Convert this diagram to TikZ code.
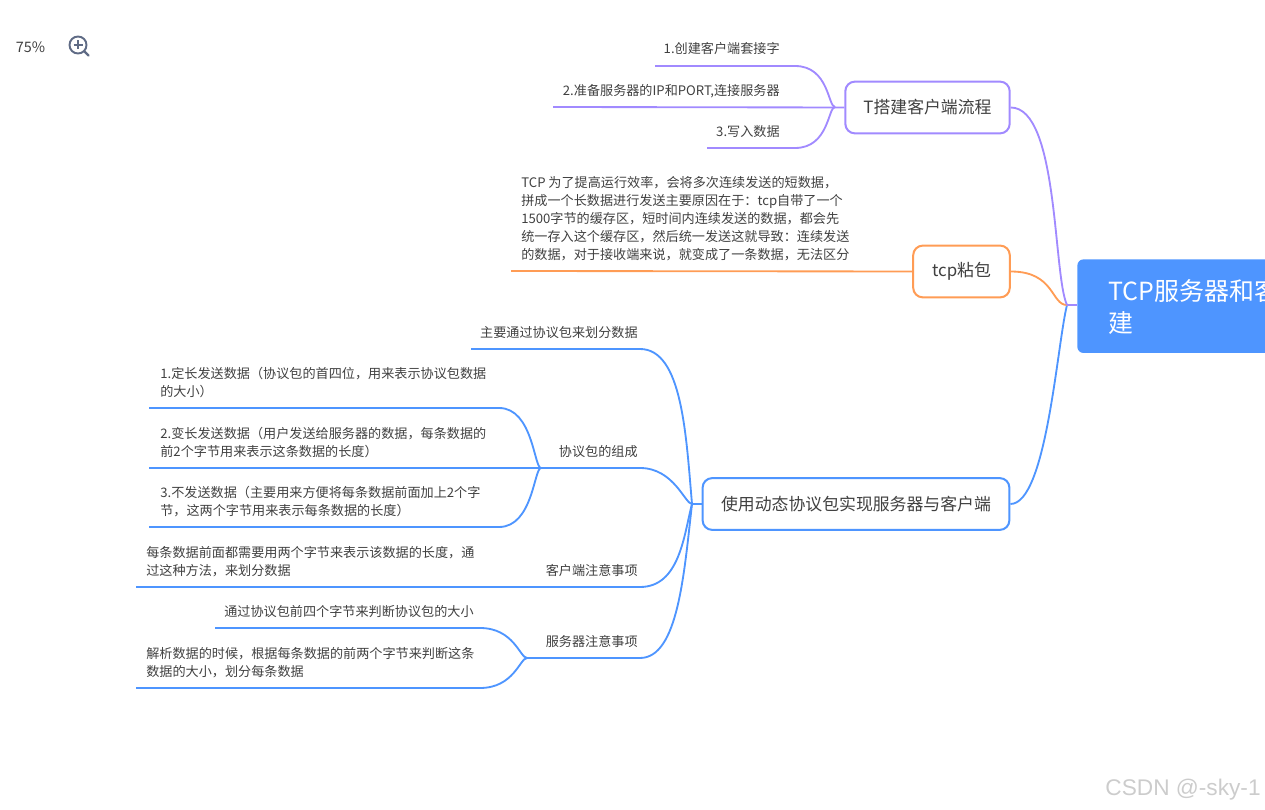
\documentclass[tikz,border=0pt]{standalone}
\usepackage{fontspec}
\setmainfont{Noto Sans CJK SC}
\newfontfamily\markfont{Liberation Sans}
\definecolor{rootblue}{HTML}{4E95FF}
\definecolor{topicviolet}{HTML}{A18AFF}
\definecolor{topicorange}{HTML}{FF9C55}
\definecolor{inkgray}{HTML}{404040}
\definecolor{iconslate}{HTML}{5F6B85}
\usetikzlibrary{calc}
\tikzset{
  rootbox/.style={fill=rootblue, rounded corners=3.5pt, anchor=north west, minimum width=300*0.567pt, minimum height=94*0.567pt, inner sep=0pt},
  topicbox/.style={draw, fill=white, line width=1.15pt, rounded corners=5.5pt, inner sep=0pt, text=inkgray, font=\fontsize{9.6}{12}\selectfont, minimum height=52*0.567pt},
  leaftext/.style={inner sep=0pt, yshift=-0.5pt, text=inkgray, align=left, font=\fontsize{7.47}{10.2}\selectfont},
  branch/.style={line width=1.05pt},
  sweep/.style={out=0, in=180, out distance=34*0.567pt, in distance=7*0.567pt}
}
\begin{document}
\begin{tikzpicture}[x=0.02cm, y=-0.02cm]
  \useasboundingbox (0,0) rectangle (1265,810);
  % Zoom widget
  \node[inner sep=0pt, text=inkgray, font=\fontsize{8.2}{10}\selectfont] (zoomlabel) at (30.5,47) {75\%};
  \draw[iconslate, line width=1.1pt] (78,45) circle (8.5);
  \draw[iconslate, line width=1.1pt] (73.5,45) -- (82.5,45) (78,40.5) -- (78,49.5);
  \draw[iconslate, line width=1.3pt, line cap=round] (84.2,51.2) -- (88.5,55.5);
  % Root and topics
  \node[rootbox] (root) at (1077,259) {};
  \node[anchor=west, inner sep=0pt, text=white, align=left, font=\fontsize{14.2}{18.5}\selectfont] (roottext) at (1108,307) {TCP服务器和客\\建};
  \node[topicbox, draw=topicviolet, minimum width=165*0.567pt] (boxT) at (927.5,107.5) {T搭建客户端流程};
  \node[topicbox, draw=topicorange, minimum width=97*0.567pt] (boxP) at (961.5,271.5) {tcp粘包};
  \node[topicbox, draw=rootblue, minimum width=308*0.567pt] (boxD) at (856,504) {使用动态协议包实现服务器与客户端};
  \coordinate (hubR) at (1067,305);
  \coordinate (hubT) at (835,107);
  \coordinate (hubD) at (692,504);
  \coordinate (hubA) at (541,468);
  \coordinate (hubC) at (527,658);

  % Client steps
  \node[leaftext, anchor=east] (t1) at (780,48) {1.创建客户端套接字};
  \node[leaftext, anchor=east] (t2) at (780,90) {2.准备服务器的IP和PORT,连接服务器};
  \node[leaftext, anchor=east] (t3) at (780,131) {3.写入数据};
  \coordinate (t1a) at (655,66); \coordinate (t1b) at (795,66);
  \coordinate (t2a) at (553,107);
  \coordinate (t3a) at (707,148); \coordinate (t3b) at (795,148);
  \draw[branch, topicviolet] (t1a) -- (t1b) to[sweep] (hubT);
  \draw[branch, topicviolet] (t3a) -- (t3b) to[sweep] (hubT);
  \draw[branch, topicviolet] (t2a) -- (boxT.west);

  % Sticky packets
  \node[leaftext, anchor=west] (p1) at (521,218) {TCP 为了提高运行效率，会将多次连续发送的短数据，\\拼成一个长数据进行发送主要原因在于：tcp自带了一个\\1500字节的缓存区，短时间内连续发送的数据，都会先\\统一存入这个缓存区，然后统一发送这就导致：连续发送\\的数据，对于接收端来说，就变成了一条数据，无法区分};
  \coordinate (p1a) at (511,271);
  \draw[branch, topicorange] (p1a) -- (boxP.west);

  % Protocol branches
  \node[leaftext, anchor=east] (d1) at (638,332) {主要通过协议包来划分数据};
  \node[leaftext, anchor=east] (d2) at (638,451) {协议包的组成};
  \node[leaftext, anchor=east] (d3) at (638,570) {客户端注意事项};
  \node[leaftext, anchor=east] (d4) at (638,641) {服务器注意事项};
  \node[leaftext, anchor=west] (a1) at (160,382) {1.定长发送数据（协议包的首四位，用来表示协议包数据\\的大小）};
  \node[leaftext, anchor=west] (a2) at (160,442) {2.变长发送数据（用户发送给服务器的数据，每条数据的\\前2个字节用来表示这条数据的长度）};
  \node[leaftext, anchor=west] (a3) at (160,501) {3.不发送数据（主要用来方便将每条数据前面加上2个字\\节，这两个字节用来表示每条数据的长度）};
  \node[leaftext, anchor=west] (c1) at (146,561) {每条数据前面都需要用两个字节来表示该数据的长度，通\\过这种方法，来划分数据};
  \node[leaftext, anchor=east] (s1) at (474,611) {通过协议包前四个字节来判断协议包的大小};
  \node[leaftext, anchor=west] (s2) at (146,662) {解析数据的时候，根据每条数据的前两个字节来判断这条\\数据的大小，划分每条数据};
  \coordinate (d1a) at (471,349); \coordinate (d1b) at (640,349);
  \coordinate (d2a) at (552,468); \coordinate (d2b) at (640,468);
  \coordinate (d3a) at (537,587); \coordinate (d3b) at (640,587);
  \coordinate (d4b) at (640,658);
  \coordinate (a1a) at (149,408); \coordinate (a1b) at (499,408);
  \coordinate (a2a) at (149,468);
  \coordinate (a3a) at (149,527); \coordinate (a3b) at (499,527);
  \coordinate (c1a) at (136,587);
  \coordinate (s1a) at (215,628); \coordinate (s1b) at (480,628);
  \coordinate (s2a) at (136,688); \coordinate (s2b) at (480,688);
  \foreach \p/\q/\hub in {d2a/d2b/hubD, a1a/a1b/hubA, a3a/a3b/hubA, s1a/s1b/hubC, s2a/s2b/hubC}{
    \draw[branch, rootblue] (\p) -- (\q) to[sweep] (\hub);
  }
  \draw[branch, rootblue] (d1a) -- (d1b) .. controls +(42,0) and +(-6,-70) .. (hubD);
  \draw[branch, rootblue] (d3a) -- (d3b) .. controls +(40,0) and +(-8,30) .. (hubD);
  \draw[branch, rootblue] (hubC) -- (d4b) .. controls +(38,0) and +(-8,70) .. (hubD);
  \draw[branch, rootblue] (a2a) -- (d2a);
  \draw[branch, rootblue] (c1a) -- (d3a);
  \draw[branch, rootblue] (hubD) -- (boxD.west);

  % Topics to root
  \draw[branch, rootblue] (boxD.east) .. controls +(36,0) and +(-10,40) .. (hubR);
  \draw[branch, topicorange] (boxP.east) .. controls +(44,0) and +(-16,0) .. (hubR);
  \draw[branch, topicviolet] (boxT.east) .. controls +(48,0) and +(-14,-30) .. (hubR);
  \draw[branch, topicviolet] (hubR) -- (root.west |- hubR);

  \node[anchor=east, inner sep=0pt, text=black!20, font=\markfont\fontsize{12.9}{16}\selectfont] (mark) at (1261,790) {CSDN @-sky-1};
\end{tikzpicture}
\end{document}
